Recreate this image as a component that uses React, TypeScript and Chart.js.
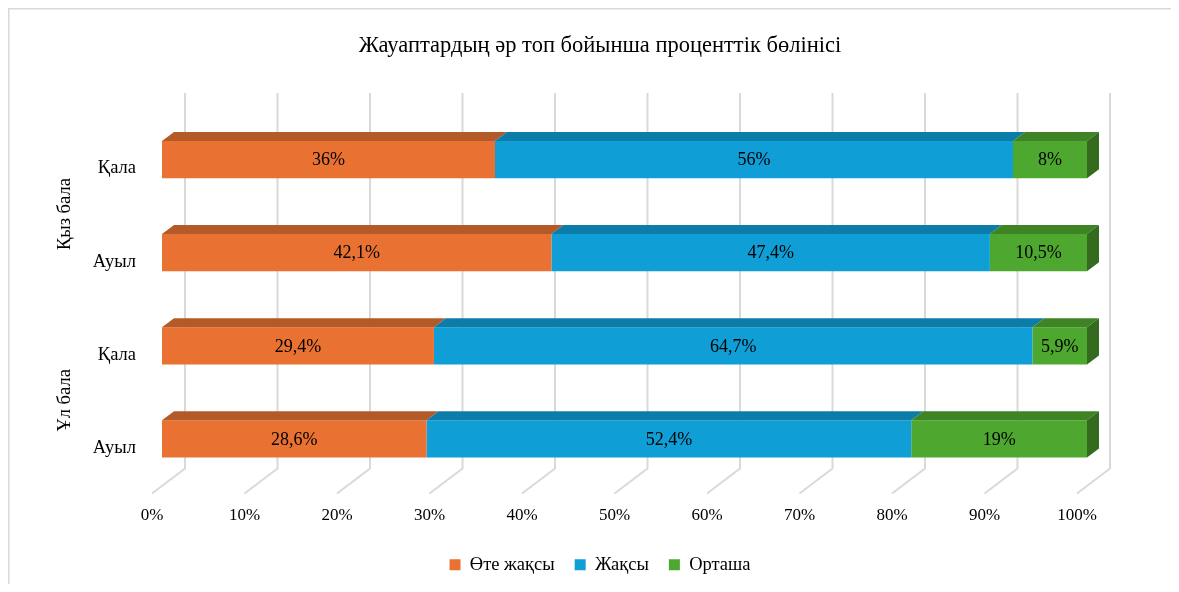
import React, { useEffect, useRef } from 'react';
import { Chart, registerables } from 'chart.js';

Chart.register(...registerables);

const titleText = 'Жауаптардың әр топ бойынша проценттік бөлінісі';
const categories = ['Қала', 'Ауыл', 'Қала', 'Ауыл'];
const groups = ['Қыз бала', 'Ұл бала'];
const seriesNames = ['Өте жақсы', 'Жақсы', 'Орташа'];
const oteZhaksy = [36, 42.1, 29.4, 28.6];
const zhaksy = [56, 47.4, 64.7, 52.4];
const ortasha = [8, 10.5, 5.9, 19];

const FF = "'Times New Roman', 'Liberation Serif', serif";
const frontColors = ['#E97132', '#0F9ED5', '#4EA72E'];
const topColors = ['#B45A29', '#0C7DA8', '#3E8424'];
const sideColor = '#346B1F';

const fmt = (v: number) => String(v).replace('.', ',') + '%';

const threeD = {
  id: 'threeD',
  beforeDraw(chart: any) {
    const ctx = chart.ctx;
    ctx.save();
    ctx.strokeStyle = '#D9D9D9';
    ctx.lineWidth = 1.5;
    ctx.beginPath();
    ctx.moveTo(0.75, chart.height);
    ctx.lineTo(0.75, 0.75);
    ctx.lineTo(chart.width, 0.75);
    ctx.stroke();
    ctx.restore();
  },
  beforeDatasetsDraw(chart: any) {
    const { ctx, chartArea } = chart;
    const xs = chart.scales.x;
    ctx.save();
    ctx.strokeStyle = '#D9D9D9';
    ctx.lineWidth = 2;
    xs.ticks.forEach((t: any) => {
      const px = xs.getPixelForValue(t.value);
      ctx.beginPath();
      ctx.moveTo(px + 23, chartArea.top - 20);
      ctx.lineTo(px + 23, chartArea.bottom - 17);
      ctx.lineTo(px - 10, chartArea.bottom + 8);
      ctx.stroke();
    });
    ctx.restore();
  },
  afterDatasetsDraw(chart: any) {
    const { ctx } = chart;
    const dx = 12, dy = -9;
    const n = chart.data.datasets.length;
    ctx.save();
    for (let d = 0; d < n; d++) {
      const meta = chart.getDatasetMeta(d);
      meta.data.forEach((el: any) => {
        const p = el.getProps(['x', 'y', 'base', 'height'], true);
        const x1 = Math.min(p.x, p.base);
        const x2 = Math.max(p.x, p.base);
        const top = p.y - p.height / 2;
        const bot = p.y + p.height / 2;
        ctx.fillStyle = topColors[d];
        ctx.beginPath();
        ctx.moveTo(x1, top);
        ctx.lineTo(x2, top);
        ctx.lineTo(x2 + dx, top + dy);
        ctx.lineTo(x1 + dx, top + dy);
        ctx.closePath();
        ctx.fill();
        if (d === n - 1) {
          ctx.fillStyle = sideColor;
          ctx.beginPath();
          ctx.moveTo(x2, top);
          ctx.lineTo(x2 + dx, top + dy);
          ctx.lineTo(x2 + dx, bot + dy);
          ctx.lineTo(x2, bot);
          ctx.closePath();
          ctx.fill();
        }
      });
    }
    // data labels
    ctx.fillStyle = '#000';
    ctx.font = `18px ${FF}`;
    ctx.textAlign = 'center';
    ctx.textBaseline = 'middle';
    for (let d = 0; d < n; d++) {
      const meta = chart.getDatasetMeta(d);
      const ds = chart.data.datasets[d];
      meta.data.forEach((el: any, i: number) => {
        const p = el.getProps(['x', 'y', 'base'], true);
        ctx.fillText(fmt(ds.data[i]), (p.x + p.base) / 2, p.y + 1);
      });
    }
    // group labels
    const ys = chart.scales.y;
    ctx.font = `18.5px ${FF}`;
    groups.forEach((g, gi) => {
      const yc = (ys.getPixelForValue(gi * 2) + ys.getPixelForValue(gi * 2 + 1)) / 2 + 8;
      ctx.save();
      ctx.translate(57, yc);
      ctx.rotate(-Math.PI / 2);
      ctx.fillText(g, 0, 0);
      ctx.restore();
    });
    ctx.restore();
  },
};

export default function App() {
  const ref = useRef<HTMLCanvasElement | null>(null);
  useEffect(() => {
    if (!ref.current) return;
    const chart = new Chart(ref.current, {
      type: 'bar',
      data: {
        labels: categories,
        datasets: [
          { label: seriesNames[0], data: oteZhaksy, backgroundColor: frontColors[0] },
          { label: seriesNames[1], data: zhaksy, backgroundColor: frontColors[1] },
          { label: seriesNames[2], data: ortasha, backgroundColor: frontColors[2] },
        ],
      },
      options: {
        indexAxis: 'y',
        responsive: false,
        animation: false,
        devicePixelRatio: 1,
        categoryPercentage: 1,
        barPercentage: 0.4,
        layout: { padding: { left: 0, right: 0, top: 0, bottom: 0 } },
        scales: {
          x: {
            stacked: true,
            min: 0,
            max: 100,
            grid: { display: false, drawTicks: false },
            border: { display: false },
            ticks: {
              stepSize: 10,
              labelOffset: -10,
              padding: 20,
              color: '#000',
              font: { size: 17, family: FF },
              callback: (v: any) => v + '%',
            },
            afterFit: (s: any) => { s.height = 50; },
          },
          y: {
            stacked: true,
            grid: { display: false, drawTicks: false },
            border: { display: false },
            ticks: {
              labelOffset: 9,
              padding: 26,
              color: '#000',
              font: { size: 18.5, family: FF },
            },
            afterFit: (s: any) => { s.width = 154; },
          },
          yr: {
            type: 'linear',
            position: 'right',
            display: true,
            grid: { display: false, drawTicks: false },
            border: { display: false },
            ticks: { display: false },
            afterFit: (s: any) => { s.width = 105; },
          },
        },
        plugins: {
          tooltip: { enabled: false },
          title: {
            display: true,
            text: titleText,
            color: '#000',
            font: { size: 22.5, family: FF, weight: 'normal' },
            padding: { top: 24.5, bottom: 53.5 },
          },
          legend: {
            position: 'bottom',
            labels: {
              boxWidth: 11,
              boxHeight: 11,
              padding: 20,
              color: '#000',
              font: { size: 18.5, family: FF },
            },
          },
        },
      },
      plugins: [threeD],
    } as any);
    return () => chart.destroy();
  }, []);
  return (
    <div style={{ width: 1163, height: 576, overflow: 'hidden' }}>
      <canvas ref={ref} width={1184} height={576} style={{ display: 'block' }} />
    </div>
  );
}
